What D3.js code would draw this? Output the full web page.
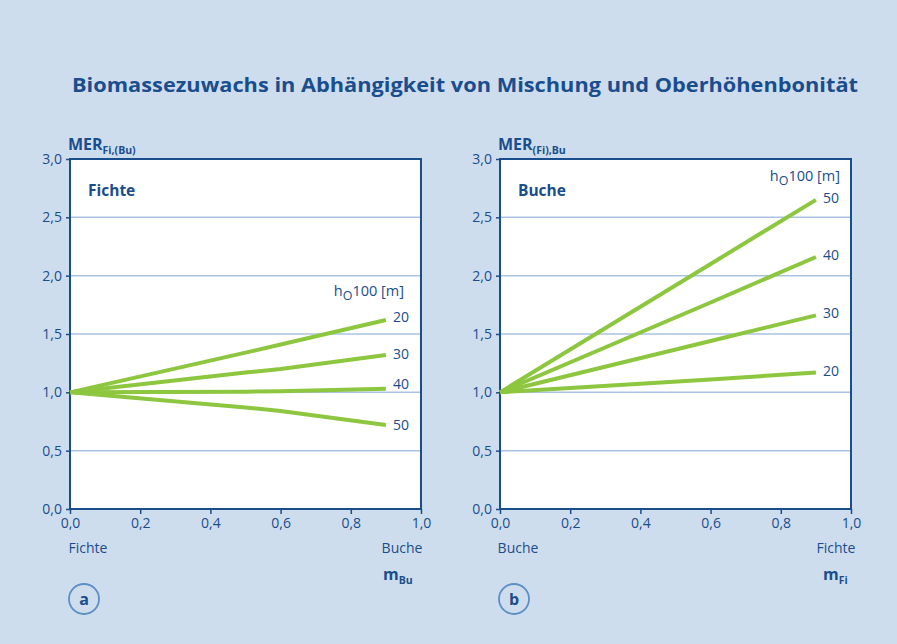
<!DOCTYPE html>
<html><head><meta charset="utf-8">
<script src="https://cdn.jsdelivr.net/npm/d3@7"></script>
<style>
html,body{margin:0;padding:0;background:#cedded;}
svg{display:block;}
text{font-family:"Open Sans","Noto Sans",sans-serif;fill:#1a4d8c;}
</style></head>
<body>
<script>
const title = "Biomassezuwachs in Abhängigkeit von Mischung und Oberhöhenbonität";
const xTicks = [0, 0.2, 0.4, 0.6, 0.8, 1.0];
const yTicks = [0, 0.5, 1.0, 1.5, 2.0, 2.5, 3.0];

// Panel a: Fichte, x = mBu
const aX = [0, 0.5, 0.6, 0.9];
const aSeries = [
  {name: "20", values: [1.0, 1.34, 1.41, 1.62]},
  {name: "30", values: [1.0, 1.17, 1.20, 1.32]},
  {name: "40", values: [1.0, 1.005, 1.01, 1.03]},
  {name: "50", values: [1.0, 0.87, 0.84, 0.72]}
];
// Panel b: Buche, x = mFi
const bX = [0, 0.6, 0.9];
const bSeries = [
  {name: "50", values: [1.0, 2.10, 2.65]},
  {name: "40", values: [1.0, 1.77, 2.16]},
  {name: "30", values: [1.0, 1.44, 1.66]},
  {name: "20", values: [1.0, 1.11, 1.17]}
];

const W = 897, H = 644;
const svg = d3.select("body").append("svg").attr("width", W).attr("height", H);
svg.append("rect").attr("width", W).attr("height", H).attr("fill", "#cedded");

svg.append("text").attr("x", 465).attr("y", 92).attr("text-anchor", "middle")
  .attr("font-size", 20).attr("font-weight", "bold").attr("fill", "#174a88")
  .attr("textLength", 786).attr("lengthAdjust", "spacingAndGlyphs")
  .text(title);

const fmt = d => d.toFixed(1).replace(".", ",");

function panel(opts) {
  const x = d3.scaleLinear().domain([0, 1]).range([opts.x0, opts.x0 + 351]);
  const y = d3.scaleLinear().domain([0, 3]).range([509, 159]);
  const g = svg.append("g");
  g.append("rect").attr("x", x(0)).attr("y", y(3)).attr("width", x(1) - x(0)).attr("height", y(0) - y(3))
    .attr("fill", "#ffffff");
  // gridlines
  g.selectAll(".grid").data(yTicks.filter(d => d > 0 && d < 3)).join("line")
    .attr("x1", x(0)).attr("x2", x(1)).attr("y1", d => y(d)).attr("y2", d => y(d))
    .attr("stroke", "#a8c3e2").attr("stroke-width", 1.5);
  // frame
  g.append("rect").attr("x", x(0)).attr("y", y(3)).attr("width", x(1) - x(0)).attr("height", y(0) - y(3))
    .attr("fill", "none").attr("stroke", "#1a4d8c").attr("stroke-width", 2);
  // axes
  const ya = g.append("g").attr("transform", `translate(${x(0)},0)`)
    .call(d3.axisLeft(y).tickValues(yTicks).tickFormat(fmt).tickSize(4).tickPadding(4));
  const xa = g.append("g").attr("transform", `translate(0,${y(0)})`)
    .call(d3.axisBottom(x).tickValues(xTicks).tickFormat(fmt).tickSize(5).tickPadding(4));
  [ya, xa].forEach(a => {
    a.select(".domain").remove();
    a.selectAll("line").attr("stroke", "#1a4d8c").attr("stroke-width", 1.5);
    a.selectAll("text").attr("font-size", 14).attr("fill", "#1a4d8c").style("font-family", '"Open Sans","Noto Sans",sans-serif');
  });
  // lines
  const line = d3.line().x(d => x(d[0])).y(d => y(d[1]));
  opts.series.forEach(s => {
    const pts = opts.xs.map((xv, i) => [xv, s.values[i]]);
    g.append("path").attr("d", line(pts)).attr("fill", "none")
      .attr("stroke", "#8dc63f").attr("stroke-width", 4).attr("stroke-linecap", "butt");
    g.append("text").attr("x", x(opts.xs[opts.xs.length - 1]) + 7)
      .attr("y", y(s.values[s.values.length - 1]) + opts.labelDy(s.name))
      .attr("font-size", 14).attr("fill", "#1a4d8c").text(s.name);
  });
  // legend header h_O100 [m]
  const ht = g.append("text").attr("x", opts.hx).attr("y", opts.hy).attr("text-anchor", "end")
    .attr("font-size", 14.5);
  ht.append("tspan").text("h");
  ht.append("tspan").attr("font-size", 12.5).attr("dy", 4).text("O");
  ht.append("tspan").attr("dy", -4).text("100 [m]");
  // panel name
  g.append("text").attr("x", x(0) + 18).attr("y", 196).attr("font-size", 15.5).attr("font-weight", "bold")
    .text(opts.name);
  // y axis title
  const yt = g.append("text").attr("x", x(0) - 2).attr("y", 150).attr("font-size", 16).attr("font-weight", "bold");
  yt.append("tspan").text("MER");
  yt.append("tspan").attr("font-size", 10.5).attr("dy", 4).text(opts.sub);
  // x end labels
  g.append("text").attr("x", x(0) + 18).attr("y", 553).attr("text-anchor", "middle").attr("font-size", 14).text(opts.leftLbl);
  g.append("text").attr("x", opts.rightLblX).attr("y", 553).attr("text-anchor", "middle").attr("font-size", 14).text(opts.rightLbl);
  // x axis title
  const xt = g.append("text").attr("x", opts.mx).attr("y", 580).attr("font-size", 16).attr("font-weight", "bold");
  xt.append("tspan").text("m");
  xt.append("tspan").attr("font-size", 10.5).attr("dy", 4).text(opts.xsub);
  // circle letter
  g.append("circle").attr("cx", x(0) + 14).attr("cy", 599).attr("r", 15)
    .attr("fill", "none").attr("stroke", "#5b8fc6").attr("stroke-width", 1.8);
  g.append("text").attr("x", x(0) + 14).attr("y", 605).attr("text-anchor", "middle")
    .attr("font-size", 16).attr("font-weight", "bold").text(opts.letter);
}

panel({x0: 70, xs: aX, series: aSeries, name: "Fichte", sub: "Fi,(Bu)", hx: 404, hy: 296,
  leftLbl: "Fichte", rightLbl: "Buche", rightLblX: 402, mx: 383, xsub: "Bu", letter: "a",
  labelDy: n => ({"20": 2, "30": 4, "40": 0, "50": 5})[n]});
panel({x0: 500, xs: bX, series: bSeries, name: "Buche", sub: "(Fi),Bu", hx: 840, hy: 181,
  leftLbl: "Buche", rightLbl: "Fichte", rightLblX: 836, mx: 823, xsub: "Fi", letter: "b",
  labelDy: n => ({"50": 3, "40": 3, "30": 3, "20": 3})[n]});
</script>
</body></html>
